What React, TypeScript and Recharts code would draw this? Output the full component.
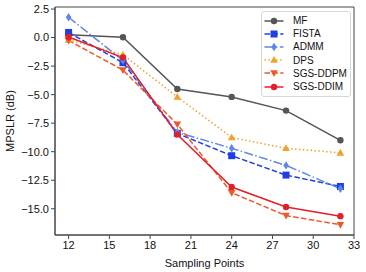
import React from "react";
import {
  Line,
  LineChart,
  ReferenceArea,
  XAxis,
  YAxis,
} from "recharts";

const samplingPoints = [12, 16, 20, 24, 28, 32];
const mf = [0.25, 0.03, -4.5, -5.2, -6.4, -9.0];
const fista = [0.45, -2.2, -8.4, -10.35, -12.05, -13.05];
const admm = [1.78, -2.0, -8.3, -9.7, -11.2, -13.25];
const dps = [-0.2, -1.5, -5.2, -8.75, -9.7, -10.1];
const sgsDdpm = [-0.25, -2.85, -7.6, -13.6, -15.6, -16.4];
const sgsDdim = [0.05, -1.75, -8.5, -13.1, -14.85, -15.65];

const xTicks = [12, 15, 18, 21, 24, 27, 30, 33];
const yTicks = [-15, -12.5, -10, -7.5, -5, -2.5, 0, 2.5];

const data = samplingPoints.map((x, i) => ({
  x,
  mf: mf[i],
  fista: fista[i],
  admm: admm[i],
  dps: dps[i],
  sgsDdpm: sgsDdpm[i],
  sgsDdim: sgsDdim[i],
}));

type Shape = "circle" | "square" | "diamond" | "up" | "down";

interface SeriesDef {
  key: string;
  name: string;
  color: string;
  dash?: string;
  shape: Shape;
}

const series: SeriesDef[] = [
  { key: "mf", name: "MF", color: "#555555", shape: "circle" },
  { key: "fista", name: "FISTA", color: "#1f3fe6", dash: "5.5 2.4", shape: "square" },
  { key: "admm", name: "ADMM", color: "#5f87e8", dash: "9 2.4 1.5 2.4", shape: "diamond" },
  { key: "dps", name: "DPS", color: "#f0a12a", dash: "1.5 2.4", shape: "up" },
  { key: "sgsDdpm", name: "SGS-DDPM", color: "#ec5a2a", dash: "5.5 2.4", shape: "down" },
  { key: "sgsDdim", name: "SGS-DDIM", color: "#e2202a", shape: "circle" },
];

const FONT = "'Liberation Sans', Arial, Helvetica, sans-serif";

function Marker({ shape, cx, cy, color }: { shape: Shape; cx: number; cy: number; color: string }) {
  if (shape === "square") {
    return <rect x={cx - 3.5} y={cy - 3.5} width={7} height={7} fill={color} />;
  }
  if (shape === "diamond") {
    return (
      <polygon
        points={`${cx},${cy - 4.2} ${cx + 2.8},${cy} ${cx},${cy + 4.2} ${cx - 2.8},${cy}`}
        fill={color}
      />
    );
  }
  if (shape === "up") {
    return (
      <polygon
        points={`${cx},${cy - 4} ${cx + 3.8},${cy + 2.8} ${cx - 3.8},${cy + 2.8}`}
        fill={color}
      />
    );
  }
  if (shape === "down") {
    return (
      <polygon
        points={`${cx},${cy + 4} ${cx + 3.8},${cy - 2.8} ${cx - 3.8},${cy - 2.8}`}
        fill={color}
      />
    );
  }
  return <circle cx={cx} cy={cy} r={3.2} fill={color} />;
}

const fmt = (v: number) => v.toFixed(1).replace("-", "\u2212");

// legend sits over the plot like matplotlib's "best" placement
function LegendBox() {
  return (
    <div
      style={{
        position: "absolute",
        left: 261,
        top: 11,
        width: 86,
        background: "rgba(255,255,255,0.8)",
        border: "1px solid #d6d6d6",
        borderRadius: 3,
        padding: "2px 0 3px 2px",
        fontFamily: FONT,
        fontSize: 10,
        color: "#111",
      }}
    >
      {series.map((s) => (
        <div key={s.key} style={{ display: "flex", alignItems: "center", height: 13.2 }}>
          <svg width={20} height={10} style={{ marginRight: 9 }}>
            <line
              x1={0.5}
              y1={5}
              x2={19.5}
              y2={5}
              stroke={s.color}
              strokeWidth={1.5}
              strokeDasharray={s.dash}
            />
            <Marker shape={s.shape} cx={10} cy={5} color={s.color} />
          </svg>
          <span style={{ whiteSpace: "nowrap" }}>{s.name}</span>
        </div>
      ))}
    </div>
  );
}

export default function App() {
  return (
    <div style={{ position: "absolute", left: 0, top: 0, width: 366, height: 272, background: "#fff" }}>
      <LineChart
        width={366}
        height={272}
        data={data}
        margin={{ top: 7, right: 12, bottom: 0, left: 0 }}
        style={{ fontFamily: FONT }}
      >
        <XAxis
          dataKey="x"
          type="number"
          domain={[11, 33]}
          ticks={xTicks}
          allowDataOverflow
          height={37}
          tickSize={4}
          tickMargin={2}
          tick={{ fill: "#111", fontSize: 11 }}
          stroke="#444"
          label={{
            value: "Sampling Points",
            position: "insideBottom",
            offset: 5,
            fill: "#111",
            fontSize: 11,
          }}
        />
        <YAxis
          type="number"
          domain={[-17.3, 2.68]}
          ticks={yTicks}
          allowDataOverflow
          width={55}
          tickSize={4}
          tickMargin={2}
          tickFormatter={fmt}
          tick={{ fill: "#111", fontSize: 11 }}
          stroke="#444"
          label={{
            position: "center",
            content: (p: any) => {
              const vb = p.viewBox || {};
              const cy = vb.y + vb.height / 2;
              return (
                <text
                  x={10}
                  y={cy}
                  transform={`rotate(-90 10 ${cy})`}
                  textAnchor="middle"
                  dominantBaseline="central"
                  fontSize={11}
                  fill="#111"
                  fontFamily={FONT}
                >
                  MPSLR (dB)
                </text>
              );
            },
          }}
        />
        <ReferenceArea
          x1={11}
          x2={33}
          y1={-17.3}
          y2={2.68}
          fill="none"
          stroke="#444"
          strokeWidth={1}
          ifOverflow="extendDomain"
        />
        {series.map((s) => (
          <Line
            key={s.key}
            dataKey={s.key}
            name={s.name}
            type="linear"
            stroke={s.color}
            strokeWidth={1.5}
            strokeDasharray={s.dash}
            isAnimationActive={false}
            activeDot={false}
            dot={(p: any) => (
              <Marker key={`${s.key}-${p.index}`} shape={s.shape} cx={p.cx} cy={p.cy} color={s.color} />
            )}
          />
        ))}
      </LineChart>
      <LegendBox />
    </div>
  );
}
